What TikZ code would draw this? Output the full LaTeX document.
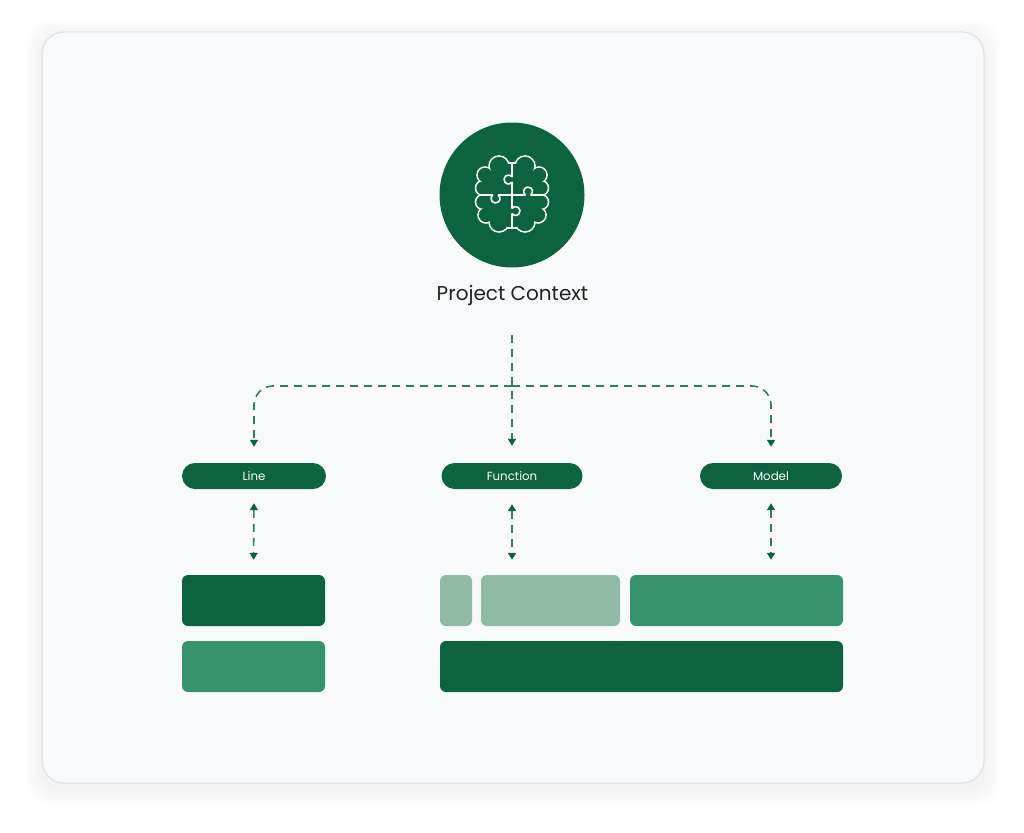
\documentclass[tikz,border=0pt]{standalone}
\usepackage{fontspec}
\setmainfont{Poppins}
\usetikzlibrary{arrows.meta}
\definecolor{dkgreen}{HTML}{0D6240}
\definecolor{mdgreen}{HTML}{37926E}
\definecolor{ltgreen}{HTML}{8FBBA6}
\definecolor{dashgreen}{HTML}{2F7D5B}
\definecolor{cardbg}{HTML}{F8F9FB}
\definecolor{cardline}{HTML}{DCDEE2}
\definecolor{titletext}{HTML}{1E2230}
\begin{document}
\begin{tikzpicture}[x=1pt,y=-1pt,
  pill/.style={fill=dkgreen, rounded corners=13pt, minimum height=26pt, inner sep=0pt,
    text=white, font=\fontsize{11.8}{13}\selectfont, text height=8.2pt, text depth=0pt},
  block/.style={rounded corners=6pt, minimum height=51pt, inner sep=0pt},
  dline/.style={draw=dashgreen, line width=1.6pt, dash pattern=on 8pt off 6pt},
  tipend/.style={-{Triangle[width=8pt,length=7pt,color=dkgreen]}},
  tipboth/.style={{Triangle[width=8pt,length=7pt,color=dkgreen]}-{Triangle[width=8pt,length=7pt,color=dkgreen]}},
  brainline/.style={draw=white, line width=1.6pt, line join=round, line cap=round}]
% page and bounding box
\fill[white] (0,0) rectangle (1024,832);
\useasboundingbox (0,0) rectangle (1024,832);
% soft shadow
\foreach \i in {1,...,12}{
  \fill[black, opacity=0.005, rounded corners=24pt] ({42-1.4*\i},{36-1.4*\i}) rectangle ({984+1.4*\i},{789+1.4*\i});
}
% card
\draw[cardline, fill=cardbg, line width=1pt, rounded corners=22pt] (42,32) rectangle (984,783);

% brain circle
\node[circle, fill=dkgreen, minimum size=145pt, inner sep=0pt] (brainc) at (512,195) {};
% brain outline: union of lobes
\foreach \cx/\cy/\r in {499/166/10, 485/175/8, 483/188/7.5, 483/202/7.5, 486/215/8, 499/222/10,
                        525/166/10, 539/175/8, 541/188/7.5, 541/202/7.5, 538/215/8, 525/222/10}{
  \fill[white] (\cx,\cy) circle[radius=\r+0.8];
}
\fill[white] (484.2,169.2) rectangle (539.8,220.8);
\fill[white] (505.2,162.2) rectangle (518.8,228.8);
\foreach \cx/\cy/\r in {499/166/10, 485/175/8, 483/188/7.5, 483/202/7.5, 486/215/8, 499/222/10,
                        525/166/10, 539/175/8, 541/188/7.5, 541/202/7.5, 538/215/8, 525/222/10}{
  \fill[dkgreen] (\cx,\cy) circle[radius=\r-0.8];
}
\fill[dkgreen] (485.8,170.8) rectangle (538.2,219.2);
\fill[dkgreen] (506.8,163.8) rectangle (517.2,227.2);
% puzzle seams
\draw[brainline] (480.3,195) -- (492.67,195) arc[start angle=231.1, end angle=-51.1, radius=4.5]
  -- (525.17,195) arc[start angle=128.9, end angle=411.1, radius=4.5] -- (543.7,195);
\draw[brainline] (512,163) -- (512,176.67) arc[start angle=-38.9, end angle=-321.1, radius=4.5]
  -- (512,208.17) arc[start angle=218.9, end angle=501.1, radius=4.5] -- (512,228);

% title
\node[anchor=base, text=titletext, font=\fontsize{20}{24}\selectfont, inner sep=0pt] (title) at (512.5,300) {Project Context};

% pills
\node[pill, minimum width=144pt] (ln) at (254,476) {Line};
\node[pill, minimum width=141pt] (fn) at (512,476) {Function};
\node[pill, minimum width=142pt] (md) at (771,476) {Model};

% blocks
\node[block, fill=dkgreen, minimum width=143pt] (lt) at (253.5,600.5) {};
\node[block, fill=mdgreen, minimum width=143pt] (lb) at (253.5,666.5) {};
\node[block, fill=ltgreen, minimum width=32pt]  (sm) at (456,600.5) {};
\node[block, fill=ltgreen, minimum width=139pt] (mi) at (550.5,600.5) {};
\node[block, fill=mdgreen, minimum width=213pt] (bg) at (736.5,600.5) {};
\node[block, fill=dkgreen, minimum width=403pt] (bt) at (641.5,666.5) {};

% connectors
\coordinate (top) at (512,335);
\coordinate (hub) at (512,386);
\draw[dline, tipend, shorten >=17pt] (top) -- (fn.north);
\draw[dline, tipend, rounded corners=19pt, shorten >=16pt] (hub) -| (ln.north);
\draw[dline, tipend, rounded corners=19pt, shorten >=16pt] (hub) -| (md.north);

\draw[dline, tipboth, shorten <=14pt, shorten >=15pt] (ln.south) -- (lt.north);
\draw[dline, tipboth, shorten <=15pt, shorten >=15pt] (fn.south) -- (fn.south |- mi.north);
\draw[dline, tipboth, shorten <=14pt, shorten >=15pt] (md.south) -- (md.south |- bg.north);
\end{tikzpicture}
\end{document}
